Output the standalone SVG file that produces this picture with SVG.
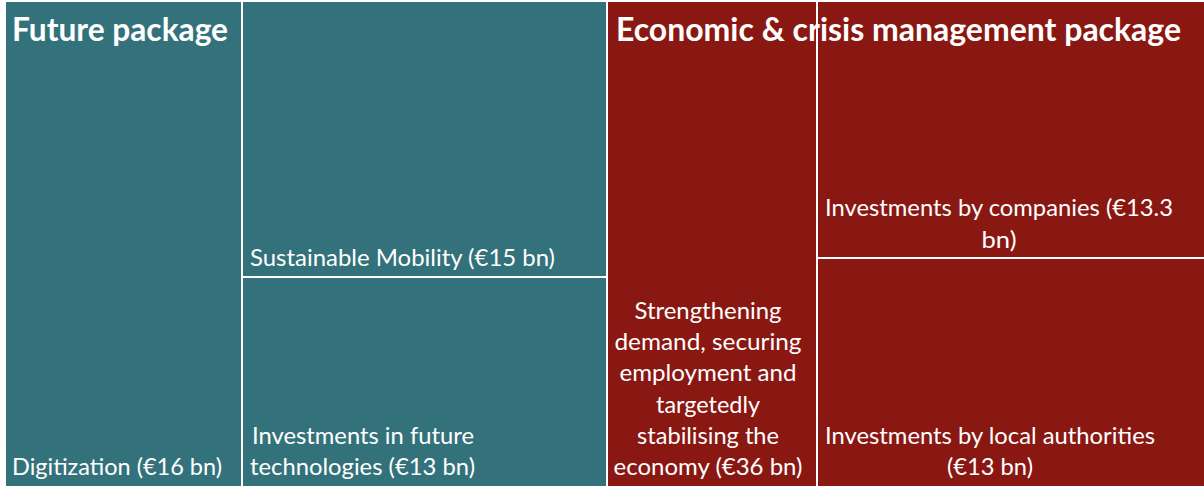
<svg xmlns="http://www.w3.org/2000/svg" width="1204" height="486" viewBox="0 0 1204 486">
<style>
.bg{fill:#ffffff}
.teal{fill:#33727B}
.red{fill:#8A1812}
.t{font-family:Lato,"Open Sans","Liberation Sans",sans-serif;font-size:24px;fill:#ffffff}
.h{font-family:Lato,"Open Sans","Liberation Sans",sans-serif;font-size:32px;font-weight:bold;fill:#ffffff}
.m{text-anchor:middle}
</style>
<rect class="bg" x="0" y="0" width="1204" height="486"/>
<g id="digitization">
<rect class="teal" x="6" y="2" width="235" height="484"/>
<text class="t" x="12" y="475" textLength="210" lengthAdjust="spacingAndGlyphs">Digitization (€16 bn)</text>
</g>
<g id="mobility">
<rect class="teal" x="243" y="2" width="363" height="274"/>
<text class="t" x="250" y="266" textLength="305" lengthAdjust="spacingAndGlyphs">Sustainable Mobility (€15 bn)</text>
</g>
<g id="future-tech">
<rect class="teal" x="243" y="278" width="363" height="208"/>
<text class="t" x="252" y="444" textLength="222" lengthAdjust="spacingAndGlyphs">Investments in future</text>
<text class="t" x="250" y="475" textLength="225" lengthAdjust="spacingAndGlyphs">technologies (€13 bn)</text>
</g>
<g id="demand">
<rect class="red" x="608" y="2" width="208" height="484"/>
<text class="t m" x="708" y="319" textLength="147" lengthAdjust="spacingAndGlyphs">Strengthening</text>
<text class="t m" x="708" y="350" textLength="187" lengthAdjust="spacingAndGlyphs">demand, securing</text>
<text class="t m" x="708" y="381" textLength="177" lengthAdjust="spacingAndGlyphs">employment and</text>
<text class="t m" x="708" y="413" textLength="104" lengthAdjust="spacingAndGlyphs">targetedly</text>
<text class="t m" x="708" y="444" textLength="142" lengthAdjust="spacingAndGlyphs">stabilising the</text>
<text class="t m" x="708" y="475" textLength="189" lengthAdjust="spacingAndGlyphs">economy (€36 bn)</text>
</g>
<g id="companies">
<rect class="red" x="818" y="2" width="386" height="255"/>
<text class="t m" x="999" y="216" textLength="348" lengthAdjust="spacingAndGlyphs">Investments by companies (€13.3</text>
<text class="t m" x="999" y="248" textLength="35" lengthAdjust="spacingAndGlyphs">bn)</text>
</g>
<g id="local-authorities">
<rect class="red" x="818" y="259" width="386" height="227"/>
<text class="t m" x="990" y="444" textLength="330" lengthAdjust="spacingAndGlyphs">Investments by local authorities</text>
<text class="t m" x="990" y="475" textLength="86" lengthAdjust="spacingAndGlyphs">(€13 bn)</text>
</g>
<g id="future-package-title">
<text class="h" x="12" y="41" textLength="216" lengthAdjust="spacingAndGlyphs">Future package</text>
</g>
<g id="economic-package-title">
<text class="h" x="616" y="41" textLength="565" lengthAdjust="spacingAndGlyphs">Economic &amp; crisis management package</text>
</g>
</svg>
